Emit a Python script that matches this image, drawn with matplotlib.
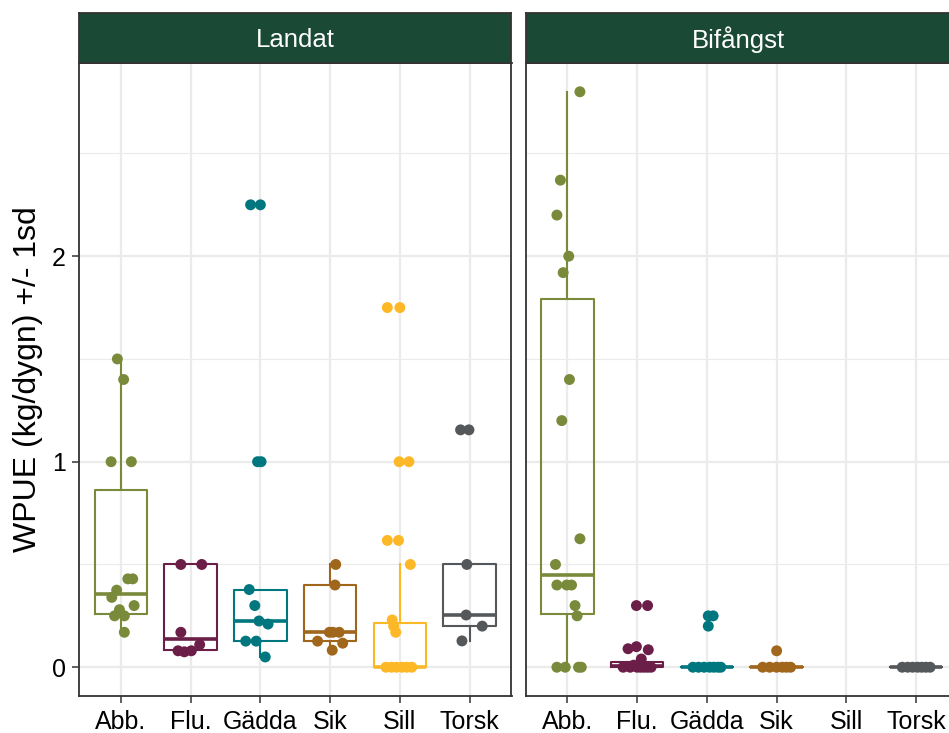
import numpy as np
import matplotlib
matplotlib.use("Agg")
import matplotlib.pyplot as plt

plt.rcParams['font.family'] = ['Liberation Sans', 'DejaVu Sans']

species = ["Abb.", "Flu.", "Gädda", "Sik", "Sill", "Torsk"]
colors = ["#7a8a3b", "#6b1e47", "#00777e", "#a0661b", "#fdb827", "#55585b"]
panels = ["Landat", "Bifångst"]

# WPUE per species (kg/dygn), one list per panel
landat_vals = {
    "Abb.": [1.50, 1.40, 1.00, 1.00, 0.43, 0.43, 0.375, 0.34, 0.30, 0.28, 0.25, 0.25, 0.17],
    "Flu.": [0.50, 0.50, 0.17, 0.08, 0.075, 0.08, 0.11],
    "Gädda": [2.25, 2.25, 1.00, 1.00, 0.378, 0.30, 0.225, 0.21, 0.127, 0.127, 0.05],
    "Sik": [0.50, 0.40, 0.17, 0.17, 0.17, 0.127, 0.117, 0.083],
    "Sill": [1.75, 1.75, 1.00, 1.00, 0.617, 0.617, 0.50, 0.23, 0.20, 0.17,
             0, 0, 0, 0, 0, 0],
    "Torsk": [1.155, 1.155, 0.50, 0.254, 0.20, 0.128],
}
landat_jit = {
    "Abb.": [-0.05, 0.04, -0.14, 0.15, 0.10, 0.17, -0.06, -0.13, 0.19, -0.02, -0.09, 0.05, 0.05],
    "Flu.": [-0.14, 0.16, -0.14, -0.18, -0.09, 0.01, 0.13],
    "Gädda": [-0.14, 0.0, -0.04, 0.01, -0.16, -0.08, -0.02, 0.11, -0.21, -0.06, 0.07],
    "Sik": [0.08, 0.07, -0.01, 0.13, 0.04, -0.18, 0.18, 0.03],
    "Sill": [-0.18, 0.0, -0.01, 0.13, -0.18, -0.02, 0.15, -0.11, -0.09, -0.06,
             -0.2, -0.12, -0.05, 0.03, 0.1, 0.17],
    "Torsk": [-0.13, -0.01, -0.04, -0.05, 0.18, -0.11],
}
bifangst_vals = {
    "Abb.": [2.80, 2.37, 2.20, 2.00, 1.92, 1.40, 1.20, 0.625, 0.50, 0.40, 0.40, 0.40,
             0.30, 0.25, 0, 0, 0, 0],
    "Flu.": [0.30, 0.30, 0.09, 0.10, 0.085, 0.04, 0.01, 0.01,
             0, 0, 0, 0, 0, 0, 0],
    "Gädda": [0.25, 0.25, 0.20, 0, 0, 0, 0, 0, 0, 0],
    "Sik": [0.08, 0, 0, 0, 0, 0, 0],
    "Sill": [],
    "Torsk": [0, 0, 0, 0, 0, 0, 0],
}
bifangst_jit = {
    "Abb.": [0.18, -0.10, -0.15, 0.02, -0.06, 0.03, -0.08, 0.18, -0.17, -0.15, -0.01, 0.06,
             0.11, 0.14, -0.15, -0.03, 0.16, 0.20],
    "Flu.": [-0.01, 0.15, -0.13, -0.01, 0.16, 0.06, 0.08, -0.05,
             -0.2, -0.1, 0.0, 0.05, 0.1, 0.15, 0.2],
    "Gädda": [0.02, 0.09, 0.02, -0.2, -0.12, -0.04, 0.04, 0.1, 0.16, 0.2],
    "Sik": [0.0, -0.2, -0.1, 0.0, 0.08, 0.14, 0.2],
    "Sill": [],
    "Torsk": [-0.2, -0.12, -0.05, 0.02, 0.08, 0.14, 0.2],
}

# box statistics: q1, median, q3, lower whisker, upper whisker
landat_box = {
    "Abb.": [0.257, 0.354, 0.86, 0.17, 1.50],
    "Flu.": [0.083, 0.135, 0.50, 0.075, 0.50],
    "Gädda": [0.128, 0.225, 0.378, 0.05, 0.378],
    "Sik": [0.128, 0.171, 0.40, 0.083, 0.50],
    "Sill": [0.0, 0.0, 0.214, 0.0, 0.50],
    "Torsk": [0.20, 0.254, 0.50, 0.128, 0.50],
}
bifangst_box = {
    "Abb.": [0.26, 0.45, 1.79, 0.0, 2.80],
    "Flu.": [0.0, 0.005, 0.025, 0.0, 0.04],
    "Gädda": [0.0, 0.0, 0.0, 0.0, 0.0],
    "Sik": [0.0, 0.0, 0.0, 0.0, 0.0],
    "Torsk": [0.0, 0.0, 0.0, 0.0, 0.0],
}

data = [(landat_vals, landat_jit, landat_box), (bifangst_vals, bifangst_jit, bifangst_box)]

fig = plt.figure(figsize=(9.49, 7.33), dpi=100)
W, H = 949, 733
grid_col = "#ebebeb"
frame_col = "#333333"

def px(x0, y0, x1, y1):
    return [x0 / W, 1 - y1 / H, (x1 - x0) / W, (y1 - y0) / H]

axes = [fig.add_axes(px(79, 63, 511.5, 696)), fig.add_axes(px(525.5, 63, 958, 696))]
strips = [fig.add_axes(px(79, 13, 511.5, 63)), fig.add_axes(px(525.5, 13, 958, 63))]

xpos = np.arange(1, len(species) + 1)
for k, ax in enumerate(axes):
    vals, jit, box = data[k]
    ax.set_xlim(0.4, 6.6)
    ax.set_ylim(-0.14, 2.94)
    for y in [0.5, 1.5, 2.5]:
        ax.axhline(y, color=grid_col, lw=0.8, zorder=0)
    for y in [0, 1, 2]:
        ax.axhline(y, color=grid_col, lw=1.6, zorder=0)
    for x in xpos:
        ax.axvline(x, color=grid_col, lw=1.6, zorder=0)

    for i, sp in enumerate(species):
        if sp not in box:
            continue
        q1, med, q3, lo, hi = box[sp]
        stats = [dict(q1=q1, med=med, q3=q3, whislo=lo, whishi=hi, fliers=[])]
        c = colors[i]
        ax.bxp(stats, positions=[xpos[i]], widths=0.75, showcaps=False,
               showfliers=False, patch_artist=False, manage_ticks=False,
               boxprops=dict(color=c, lw=1.5),
               whiskerprops=dict(color=c, lw=1.5),
               medianprops=dict(color=c, lw=2.6, solid_capstyle='butt'),
               zorder=2)

    for i, sp in enumerate(species):
        v = np.array(vals[sp], dtype=float)
        if len(v) == 0:
            continue
        xs = xpos[i] + np.array(jit[sp])
        ax.scatter(xs, v, s=62, color=colors[i], edgecolors='none', zorder=3)

    ax.set_xticks(xpos)
    ax.set_xticklabels(species, fontsize=18, color='black')
    ax.set_yticks([0, 1, 2])
    ax.tick_params(axis='both', length=5, width=1.1, color=frame_col)
    ax.tick_params(axis='x', pad=5)
    ax.tick_params(axis='y', pad=4.5)
    for s in ax.spines.values():
        s.set_color(frame_col)
        s.set_linewidth(1.3)
    if k == 0:
        ax.set_yticklabels(["0", "1", "2"], fontsize=18, color='black')
        ax.set_ylabel("WPUE (kg/dygn) +/- 1sd", fontsize=23, labelpad=6.5)
    else:
        ax.tick_params(axis='y', left=False, labelleft=False)

for k, sax in enumerate(strips):
    sax.set_facecolor("#1a4936")
    sax.set_xticks([])
    sax.set_yticks([])
    for s in sax.spines.values():
        s.set_color(frame_col)
        s.set_linewidth(1.3)
    cx = 0.5 if k == 0 else (738 - 525.5) / (958 - 525.5)
    sax.text(cx, 0.46, panels[k], color='white', fontsize=18.5,
             ha='center', va='center', transform=sax.transAxes)

fig.savefig("out.png", dpi=100)
